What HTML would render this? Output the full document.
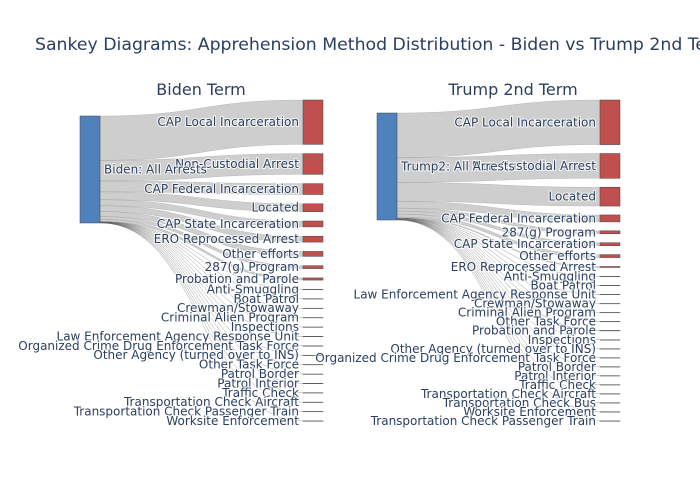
<!DOCTYPE html>
<html><head><meta charset="utf-8"><style>
body{margin:0;background:#fff;}
svg{display:block;font-family:"DejaVu Sans","Liberation Sans",sans-serif;}
.lbl{font-size:12px;fill:#2a3f5f;paint-order:stroke;stroke:#fff;stroke-width:2px;stroke-opacity:.8}
</style></head><body>
<svg id="c" width="700" height="500">
<text x="35" y="50" font-size="17.3" fill="#2a3f5f">Sankey Diagrams: Apprehension Method Distribution - Biden vs Trump 2nd Term</text>
<text x="201" y="95" font-size="16" fill="#2a3f5f" text-anchor="middle">Biden Term</text>
<text x="513" y="95" font-size="16" fill="#2a3f5f" text-anchor="middle">Trump 2nd Term</text>
</svg>
<script>
const bidenLabels=["CAP Local Incarceration","Non-Custodial Arrest","CAP Federal Incarceration","Located","CAP State Incarceration","ERO Reprocessed Arrest","Other efforts","287(g) Program","Probation and Parole","Anti-Smuggling","Boat Patrol","Crewman/Stowaway","Criminal Alien Program","Inspections","Law Enforcement Agency Response Unit","Organized Crime Drug Enforcement Task Force","Other Agency (turned over to INS)","Other Task Force","Patrol Border","Patrol Interior","Traffic Check","Transportation Check Aircraft","Transportation Check Passenger Train","Worksite Enforcement"];
const bidenValues=[45,21,11,8,6,6,5,3,2.2,0.05,0.15,0.1,0.08,0.08,0.2,0.03,0.05,0.15,0.03,0.1,0.1,0.05,0.1,0.1];
const trumpLabels=["CAP Local Incarceration","Non-Custodial Arrest","Located","CAP Federal Incarceration","287(g) Program","CAP State Incarceration","Other efforts","ERO Reprocessed Arrest","Anti-Smuggling","Boat Patrol","Law Enforcement Agency Response Unit","Crewman/Stowaway","Criminal Alien Program","Other Task Force","Probation and Parole","Inspections","Other Agency (turned over to INS)","Organized Crime Drug Enforcement Task Force","Patrol Border","Patrol Interior","Traffic Check","Transportation Check Aircraft","Transportation Check Bus","Worksite Enforcement","Transportation Check Passenger Train"];
const trumpValues=[45,25,19,7,3,3,3,1,0.1,0.1,0.2,0.05,0.05,0.1,0.4,0.05,0.05,0.1,0.05,0.1,0.1,0.1,0.1,0.2,0.1];
const NS="http://www.w3.org/2000/svg";
const svg=document.getElementById('c');
function mk(t,a){const e=document.createElementNS(NS,t);for(const k in a)e.setAttribute(k,a[k]);return e;}
function draw(prefix,srcName,labels,values,sx,sTop,sH,tx,tTop,tBot){
  const total=values.reduce((a,b)=>a+b,0);
  const scale=sH/total;
  const hs=values.map(v=>v*scale);
  const gap=(tBot-tTop-sH)/(values.length-1);
  const g=mk('g',{});
  
  
  svg.appendChild(g);
  let ty=tTop,sy=sTop;const tys=[];
  values.forEach((v,i)=>{
    const h=hs[i];
    const x0=sx+20,x1=tx,mx=(x0+x1)/2;
    const s0=sy,s1=sy+h,t0=ty,t1=ty+h;
    const p=mk('path',{d:`M${x0},${s0}C${mx},${s0} ${mx},${t0} ${x1},${t0}L${x1},${t1}C${mx},${t1} ${mx},${s1} ${x0},${s1}Z`,fill:'rgba(190,190,190,0.75)',stroke:'#444','stroke-width':'0.25','stroke-opacity':'0.5'});
    
    
    g.appendChild(p);
    tys.push([ty,h]);sy+=h;ty+=h+gap;
  });
  const sn=mk('rect',{x:sx,y:sTop,width:20,height:sH,fill:'#4f81bd',stroke:'#444','stroke-width':'0.5'});
  
  
  g.appendChild(sn);
  values.forEach((v,i)=>{
    const [y,h]=tys[i];
    const r=mk('rect',{x:tx,y:y,width:20,height:Math.max(h,0.3),fill:'#c0504d',stroke:'#444','stroke-width':'0.5'});
    
    
    g.appendChild(r);
    const t=mk('text',{x:tx-4,y:y+h/2+4,'text-anchor':'end',class:'lbl'});
    t.textContent=labels[i];
    
    
    g.appendChild(t);
  });
  const st=mk('text',{x:sx+24,y:sTop+sH/2+4,class:'lbl'});
  st.textContent=srcName;
  
  
  g.appendChild(st);
}
draw('biden','Biden: All Arrests',bidenLabels,bidenValues,80,116,107,303,100,421);
draw('trump','Trump2: All Arrests',trumpLabels,trumpValues,377,113,107,600,100,421);
</script>
</body></html>
